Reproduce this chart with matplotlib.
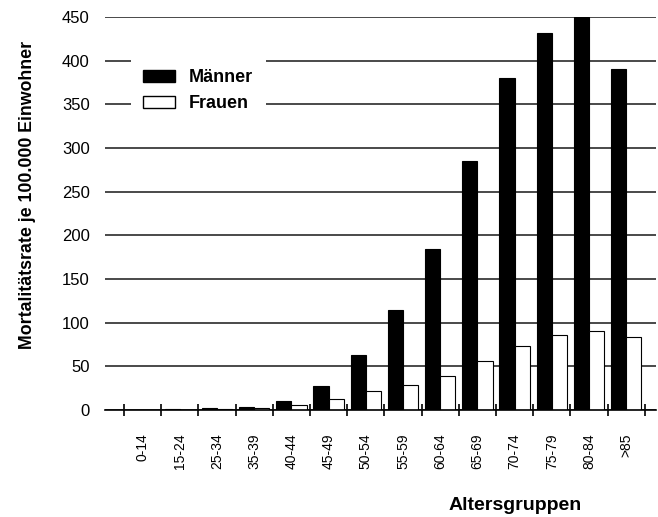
import matplotlib
matplotlib.use("Agg")
import matplotlib.pyplot as plt
from matplotlib.patches import Patch
import numpy as np

plt.rcParams['font.family'] = ['Liberation Sans', 'DejaVu Sans']

gruppen = ["0-14", "15-24", "25-34", "35-39", "40-44", "45-49", "50-54",
           "55-59", "60-64", "65-69", "70-74", "75-79", "80-84", ">85"]
maenner = [0.5, 1, 2, 4, 10, 28, 63, 115, 184, 285, 380, 432, 450, 391]
frauen = [0.3, 0.5, 1, 2, 6, 13, 22, 29, 39, 56, 73, 86, 90, 84]
y_ticks = [0, 50, 100, 150, 200, 250, 300, 350, 400, 450]

fig = plt.figure(figsize=(6.58, 5.17), dpi=100)
ax = fig.add_axes([105/658, 1 - 410/517, 551/658, 393/517])

x = np.arange(len(gruppen))
w = 0.41
ax.bar(x - w/2, maenner, w, color="black", edgecolor="black", linewidth=0.8, zorder=3)
ax.bar(x + w/2, frauen, w, color="white", edgecolor="black", linewidth=0.8, zorder=3)

ax.set_xlim(-1.01, 13.8)
ax.set_ylim(0, 450)
ax.set_yticks(y_ticks)
ax.yaxis.grid(True, color="#3a3a3a", linewidth=1.3, zorder=0)
ax.set_axisbelow(True)
ax.tick_params(axis='y', length=0, pad=11, labelsize=12)

# group boundaries as crossing ticks, labels on group centres
ax.set_xticks(np.arange(-0.5, len(gruppen), 1))
ax.set_xticklabels([])
ax.tick_params(axis='x', which='major', direction='inout', length=8, width=1.2)
ax.set_xticks(x, minor=True)
ax.set_xticklabels(gruppen, minor=True, rotation=90, fontsize=10)
ax.tick_params(axis='x', which='minor', length=0, pad=17)

for s in ["left", "top", "right"]:
    ax.spines[s].set_visible(False)
ax.spines["bottom"].set_linewidth(1.2)
ax.spines["bottom"].set_zorder(4)

handles = [Patch(facecolor="black", edgecolor="black", label="Männer"),
           Patch(facecolor="white", edgecolor="black", label="Frauen")]
leg = ax.legend(handles=handles, loc="upper left", bbox_to_anchor=(0.03, 0.922),
                frameon=True, fancybox=False, framealpha=1, edgecolor="none",
                facecolor="white", prop={'weight': 'bold', 'size': 13},
                handlelength=1.75, handleheight=0.6, handletextpad=0.8,
                labelspacing=0.5, borderpad=0.7)
leg.set_zorder(5)

fig.text(28/658, 1 - 195/517, "Mortalitätsrate je 100.000 Einwohner", rotation=90,
         ha="center", va="center", fontsize=12.8, fontweight="bold")
fig.text(515/658, 1 - 505/517, "Altersgruppen", ha="center", va="center",
         fontsize=14, fontweight="bold")

fig.savefig("out.png", dpi=100)
